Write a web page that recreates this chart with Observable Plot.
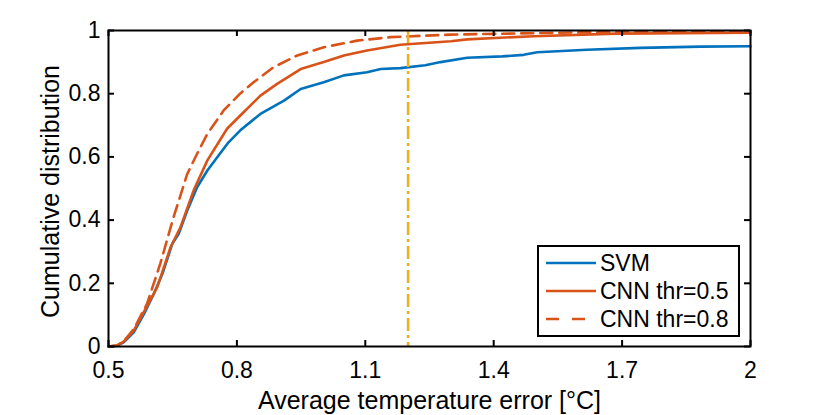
<!DOCTYPE html>
<html>
<head>
<meta charset="utf-8">
<script src="https://cdn.jsdelivr.net/npm/d3@7"></script>
<script src="https://cdn.jsdelivr.net/npm/@observablehq/plot@0.6"></script>
<style>
  html, body { margin: 0; padding: 0; background: #fff; }
  #wrap { position: relative; width: 830px; height: 415px; font-family: "Liberation Sans", Arial, Helvetica, sans-serif; }
  #legend { position: absolute; left: 537px; top: 245px; width: 199px; height: 88px; border: 2px solid #000; background: #fff; box-sizing: content-box; }
  .item { position: absolute; left: 6px; height: 28px; display: flex; align-items: center; font-size: 23px; color: #000; white-space: nowrap; }
  .item svg { margin-right: 3px; }
</style>
</head>
<body>
<div id="wrap"></div>
<script>
// ---- data ----
const xTicks = [0.5, 0.8, 1.1, 1.4, 1.7, 2];
const yTicks = [0, 0.2, 0.4, 0.6, 0.8, 1];

const svmX = [0.5,0.52,0.536,0.559,0.583,0.606,0.626,0.649,0.664,0.684,0.707,0.731,0.754,0.781,0.808,0.855,0.91,0.949,1.003,1.05,1.104,1.136,1.182,1.24,1.276,1.338,1.42,1.47,1.502,1.56,1.618,1.743,1.883,2.0];
const svmY = [0,0.002,0.014,0.045,0.103,0.167,0.23,0.325,0.357,0.43,0.504,0.557,0.599,0.647,0.684,0.736,0.778,0.815,0.836,0.858,0.868,0.878,0.881,0.89,0.9,0.914,0.918,0.923,0.931,0.935,0.939,0.945,0.949,0.95];

const cnn5X = [0.5,0.52,0.536,0.559,0.583,0.614,0.645,0.668,0.699,0.731,0.777,0.808,0.855,0.894,0.949,1.003,1.05,1.104,1.182,1.3,1.338,1.494,1.688,2.0];
const cnn5Y = [0,0.003,0.016,0.05,0.11,0.188,0.314,0.377,0.494,0.589,0.689,0.731,0.794,0.831,0.878,0.9,0.921,0.937,0.955,0.966,0.972,0.982,0.99,0.993];

const cnn8X = [0.5,0.52,0.536,0.559,0.59,0.621,0.652,0.684,0.707,0.731,0.769,0.808,0.839,0.886,0.941,1.003,1.081,1.159,1.299,1.6,2.0];
const cnn8Y = [0,0.003,0.017,0.055,0.135,0.262,0.409,0.546,0.61,0.673,0.747,0.801,0.836,0.884,0.921,0.947,0.968,0.979,0.987,0.994,0.996];

const thresholdX = [1.2];

const seriesNames = ["SVM", "CNN thr=0.5", "CNN thr=0.8"];
const xLabel = "Average temperature error [°C]";
const yLabel = "Cumulative distribution";

// ---- build ----
const zip = (xs, ys) => xs.map((x, i) => ({x, y: ys[i]}));
const W = 830, H = 415, mL = 108, mR = 80, mT = 30, mB = 69;
const innerW = W - mL - mR, innerH = H - mT - mB;
const tick = 6;
const blue = "#0072BD", orange = "#D95319", yellow = "#EDB120";

const chart = Plot.plot({
  width: W, height: H,
  marginLeft: mL, marginRight: mR, marginTop: mT, marginBottom: mB,
  style: {fontFamily: '"Liberation Sans", Arial, Helvetica, sans-serif', fontSize: "23px", background: "#fff", color: "#000"},
  x: {domain: [0.5, 2]},
  y: {domain: [0, 1]},
  marks: [
    Plot.line(zip(svmX, svmY), {x: "x", y: "y", stroke: blue, strokeWidth: 2.6}),
    Plot.line(zip(cnn5X, cnn5Y), {x: "x", y: "y", stroke: orange, strokeWidth: 2.6}),
    Plot.line(zip(cnn8X, cnn8Y), {x: "x", y: "y", stroke: orange, strokeWidth: 2.6, strokeDasharray: "12,7"}),
    Plot.ruleX(thresholdX, {stroke: yellow, strokeWidth: 2.6, strokeDasharray: "13,4,3,4"}),
    Plot.frame({stroke: "#000", strokeWidth: 2}),
    Plot.ruleX(xTicks, {stroke: "#000", strokeWidth: 2, insetTop: innerH - tick}),
    Plot.ruleX(xTicks, {stroke: "#000", strokeWidth: 2, insetBottom: innerH - tick}),
    Plot.ruleY(yTicks, {stroke: "#000", strokeWidth: 2, insetRight: innerW - tick}),
    Plot.ruleY(yTicks, {stroke: "#000", strokeWidth: 2, insetLeft: innerW - tick}),
    Plot.axisX({ticks: xTicks, tickSize: 0, tickPadding: 15, fontSize: 23, label: null, tickFormat: d => String(d)}),
    Plot.axisY({ticks: yTicks, tickSize: 0, tickPadding: 8, fontSize: 23, label: null, tickFormat: d => String(d)}),
    Plot.text([xLabel], {text: d => d, frameAnchor: "bottom", textAnchor: "middle", lineAnchor: "middle", dy: 54, fontSize: 25}),
    Plot.text([yLabel], {text: d => d, frameAnchor: "left", textAnchor: "middle", lineAnchor: "middle", dx: -58, dy: 3, rotate: -90, fontSize: 25})
  ]
});

const wrap = document.getElementById("wrap");
wrap.appendChild(chart);

// ---- legend ----
const legend = document.createElement("div");
legend.id = "legend";
const styles = [
  {stroke: blue, dash: null},
  {stroke: orange, dash: null},
  {stroke: orange, dash: "13,13"}
];
seriesNames.forEach((name, i) => {
  const item = document.createElement("div");
  item.className = "item";
  item.style.top = (2 + i * 28) + "px";
  const s = styles[i];
  item.innerHTML = `<svg width="52" height="10"><line x1="1" x2="51" y1="5" y2="5" stroke="${s.stroke}" stroke-width="2.6" ${s.dash ? `stroke-dasharray="${s.dash}"` : ""}/></svg><span>${name}</span>`;
  legend.appendChild(item);
});
wrap.appendChild(legend);
</script>
</body>
</html>
